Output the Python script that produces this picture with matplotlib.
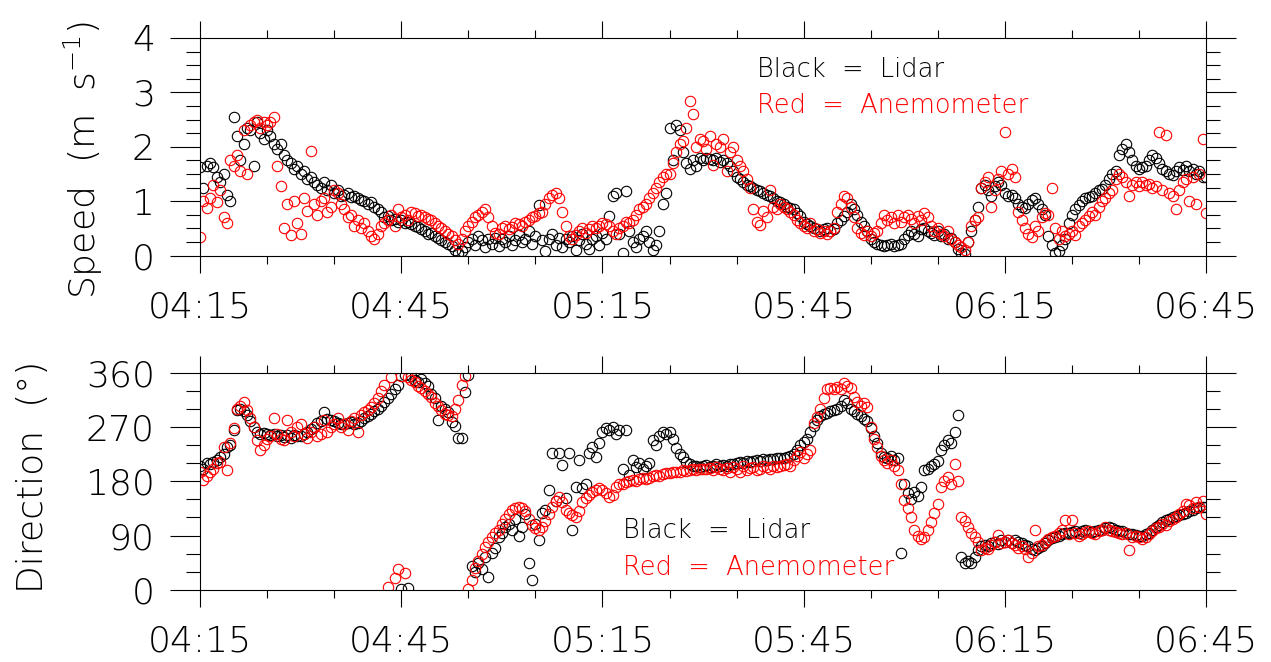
import numpy as np
import matplotlib
matplotlib.use("Agg")
import matplotlib.pyplot as plt

# sample spacing of the records (minutes after 04:15)
step = 0.5
tick_minutes = [0, 30, 60, 90, 120, 150]
tick_labels = ["04:15", "04:45", "05:15", "05:45", "06:15", "06:45"]

# wind speed (m/s), lidar = black, anemometer = red
speed_lidar = [
    1.62, 1.25, 1.65, 1.70, 1.62, 1.45, 1.35, 1.50, 1.12, 1.00,
    2.55, 2.20, 1.75, 2.05, 2.35, 2.30, 1.65, 2.45, 2.25, 2.15,
    2.30, 2.20, 2.05, 1.95, 2.05, 1.85, 1.75, 1.70, 1.60, 1.65,
    1.50, 1.55, 1.40, 1.45, 1.35, 1.30, 1.25, 1.35, 1.20, 1.30,
    1.15, 1.20, 1.10, 1.12, 1.15, 1.08, 1.10, 1.05, 1.02, 1.00,
    0.95, 0.98, 0.90, 0.85, 0.80, 0.70, 0.72, 0.65, 0.68, 0.62,
    0.65, 0.60, 0.62, 0.58, 0.55, 0.52, 0.48, 0.45, 0.40, 0.42,
    0.35, 0.32, 0.28, 0.25, 0.22, 0.18, 0.10, 0.05, 0.08, 0.15,
    0.25, 0.30, 0.20, 0.35, 0.28, 0.15, 0.30, 0.22, 0.32, 0.18,
    0.30, 0.25, 0.35, 0.20, 0.28, 0.38, 0.25, 0.30, 0.45, 0.22,
    0.35, 0.92, 0.28, 0.08, 0.30, 0.40, 0.20, 0.32, 0.15, 0.30,
    0.25, 0.35, 0.10, 0.28, 0.40, 0.22, 0.12, 0.30, 0.35, 0.20,
    0.42, 0.30, 0.72, 1.10, 1.15, 0.40, 0.05, 1.18, 0.45, 0.25,
    0.15, 0.30, 0.35, 0.45, 0.25, 0.10, 0.20, 0.45, 0.95, 1.15,
    2.35, 1.75, 2.40, 2.30, 1.90, 1.70, 1.60, 1.75, 1.65, 1.80,
    1.75, 1.80, 1.78, 1.75, 1.80, 1.72, 1.75, 1.70, 1.65, 1.55,
    1.45, 1.40, 1.35, 1.30, 1.28, 1.25, 1.20, 1.18, 1.15, 1.12,
    1.10, 1.05, 1.00, 0.98, 0.95, 0.90, 0.88, 0.85, 0.78, 0.72,
    0.62, 0.58, 0.55, 0.50, 0.48, 0.45, 0.48, 0.50, 0.45, 0.48,
    0.60, 0.65, 0.72, 0.80, 0.95, 0.85, 0.75, 0.62, 0.55, 0.45,
    0.30, 0.25, 0.22, 0.20, 0.18, 0.20, 0.22, 0.18, 0.20, 0.22,
    0.30, 0.38, 0.45, 0.40, 0.35, 0.48, 0.50, 0.45, 0.42, 0.38,
    0.45, 0.35, 0.40, 0.30, 0.32, 0.25, 0.12, 0.05, 0.03, 0.25,
    0.45, 0.65, 0.90, 1.25, 1.30, 1.20, 1.10, 1.28, 1.35, 1.30,
    1.15, 1.10, 1.12, 1.05, 0.95, 0.90, 0.88, 0.95, 1.02, 1.05,
    0.95, 0.85, 0.75, 0.35, 0.20, 0.05, 0.08, 0.20, 0.30, 0.60,
    0.75, 0.85, 0.92, 1.00, 1.05, 1.08, 1.10, 1.15, 1.20, 1.22,
    1.30, 1.40, 1.50, 1.55, 1.85, 1.95, 2.05, 1.90, 1.75, 1.65,
    1.60, 1.62, 1.65, 1.75, 1.85, 1.80, 1.70, 1.60, 1.55, 1.50,
    1.48, 1.55, 1.62, 1.58, 1.65, 1.55, 1.60, 1.50, 1.55, 1.45,
    1.45,
]
speed_anem = [
    0.34, 1.00, 0.88, 1.05, 1.30, 0.98, 1.20, 0.70, 0.60, 1.75,
    1.65, 1.85, 1.55, 2.30, 1.50, 2.40, 2.45, 2.50, 2.35, 2.45,
    2.40, 2.45, 2.55, 1.65, 1.28, 0.50, 0.95, 0.37, 1.00, 0.60,
    0.40, 1.05, 0.82, 1.92, 0.95, 0.75, 1.00, 1.05, 0.80, 0.90,
    1.20, 1.15, 0.95, 0.85, 0.70, 0.75, 0.55, 0.65, 0.50, 0.60,
    0.45, 0.35, 0.30, 0.40, 0.55, 0.60, 0.65, 0.75, 0.55, 0.85,
    0.70, 0.75, 0.65, 0.80, 0.78, 0.72, 0.75, 0.70, 0.68, 0.65,
    0.60, 0.55, 0.50, 0.45, 0.40, 0.35, 0.28, 0.22, 0.30, 0.45,
    0.55, 0.62, 0.70, 0.75, 0.80, 0.85, 0.70, 0.55, 0.42, 0.40,
    0.50, 0.55, 0.48, 0.52, 0.60, 0.58, 0.55, 0.62, 0.65, 0.70,
    0.72, 0.78, 0.80, 0.95, 1.05, 1.12, 1.15, 1.05, 0.80, 0.55,
    0.35, 0.30, 0.38, 0.45, 0.50, 0.42, 0.48, 0.55, 0.50, 0.55,
    0.60, 0.58, 0.55, 0.45, 0.40, 0.50, 0.55, 0.62, 0.60, 0.65,
    0.75, 0.85, 0.90, 0.95, 1.05, 1.15, 1.25, 1.35, 1.45, 1.50,
    1.50, 1.70, 1.90, 2.05, 2.10, 2.35, 2.85, 2.60, 2.00, 2.15,
    2.10, 1.95, 2.20, 1.66, 2.05, 2.00, 2.15, 1.55, 1.90, 2.00,
    1.75, 1.65, 1.55, 1.40, 1.25, 0.85, 0.62, 0.56, 0.81, 0.70,
    1.20, 0.90, 0.85, 0.95, 0.90, 0.85, 0.80, 0.75, 0.65, 0.60,
    0.55, 0.50, 0.60, 0.45, 0.48, 0.42, 0.45, 0.40, 0.45, 0.50,
    0.80, 0.95, 1.10, 1.05, 0.90, 0.70, 0.50, 0.42, 0.38, 0.45,
    0.35, 0.42, 0.45, 0.60, 0.75, 0.65, 0.70, 0.60, 0.75, 0.62,
    0.70, 0.75, 0.68, 0.60, 0.72, 0.65, 0.78, 0.70, 0.55, 0.45,
    0.50, 0.40, 0.35, 0.45, 0.30, 0.25, 0.20, 0.15, 0.10, 0.25,
    0.55, 0.65, 0.70, 1.25, 1.35, 1.45, 0.90, 1.20, 1.40, 1.55,
    2.28, 1.50, 1.60, 1.45, 0.80, 0.65, 0.50, 0.40, 0.34, 0.55,
    0.45, 0.70, 0.78, 0.75, 1.25, 0.50, 0.30, 0.45, 0.35, 0.40,
    0.45, 0.38, 0.55, 0.60, 0.65, 0.72, 0.80, 0.75, 0.90, 1.00,
    1.05, 1.15, 1.20, 1.40, 1.50, 1.45, 1.35, 1.10, 1.30, 1.35,
    1.28, 1.35, 1.30, 1.32, 1.25, 1.28, 2.28, 1.20, 2.22, 1.15,
    1.10, 0.85, 1.20, 1.35, 1.40, 1.00, 1.45, 0.95, 1.50, 2.15,
    0.78,
]

# wind direction (degrees)
dir_lidar = [
    205, 200, 210, 208, 212, 215, 220, 225, 237, 240,
    265, 298, 300, 296, 290, 280, 270, 262, 258, 260,
    258, 256, 258, 255, 257, 254, 256, 252, 256, 255,
    255, 258, 262, 266, 270, 276, 280, 295, 283, 282,
    280, 277, 275, 274, 276, 278, 275, 276, 280, 285,
    288, 292, 296, 300, 305, 312, 318, 325, 332, 340,
    2, 356, 4, 355, 348, 345, 350, 342, 338, 325,
    318, 282, 305, 300, 295, 278, 272, 252, 251, 328,
    356, 40, 30, 44, 35, 55, 22, 62, 70, 88,
    95, 105, 110, 100, 118, 90, 105, 125, 44, 16,
    110, 83, 128, 132, 165, 226, 148, 226, 207, 152,
    226, 99, 170, 215, 168, 176, 226, 237, 220, 243,
    262, 268, 265, 270, 258, 265, 200, 265, 190, 215,
    204, 210, 200, 206, 210, 248, 240, 255, 262, 258,
    262, 250, 235, 225, 220, 212, 208, 205, 206, 204,
    205, 207, 204, 206, 208, 205, 207, 206, 208, 209,
    210, 212, 211, 213, 212, 214, 215, 213, 216, 215,
    217, 216, 218, 219, 218, 220, 221, 225, 232, 240,
    245, 250, 262, 272, 282, 288, 292, 293, 296, 298,
    300, 305, 314, 310, 300, 296, 292, 288, 283, 280,
    268, 255, 243, 226, 220, 218, 222, 215, 218, 61,
    175, 160, 150, 162, 155, 170, 198, 200, 205, 208,
    213, 232, 240, 248, 244, 262, 290, 55, 44, 48,
    44, 55, 66, 72, 75, 72, 78, 80, 76, 82,
    80, 83, 78, 82, 80, 78, 75, 72, 68, 66,
    70, 72, 78, 83, 86, 88, 90, 92, 94, 95,
    96, 97, 95, 98, 99, 97, 96, 98, 100, 99,
    102, 104, 103, 100, 98, 97, 95, 93, 92, 91,
    90, 90, 92, 95, 100, 105, 108, 112, 116, 118,
    120, 122, 124, 126, 128, 130, 132, 135, 138, 138,
    138,
]
dir_anem = [
    195, 182, 188, 195, 200, 210, 212, 237, 199, 243,
    268, 300, 305, 311, 298, 285, 270, 248, 232, 240,
    250, 255, 284, 258, 250, 248, 282, 262, 255, 270,
    275, 258, 252, 262, 270, 255, 258, 281, 262, 270,
    275, 285, 270, 275, 265, 280, 285, 262, 290, 295,
    298, 303, 310, 318, 330, 340, 5, 352, 20, 35,
    355, 28, 352, 348, 345, 338, 335, 330, 325, 320,
    310, 305, 298, 292, 290, 288, 300, 315, 340, 355,
    2, 16, 37, 48, 60, 71, 80, 88, 95, 99,
    110, 118, 125, 132, 136, 138, 136, 130, 118, 108,
    102, 99, 105, 115, 125, 138, 148, 154, 145, 132,
    128, 124, 121, 130, 145, 152, 158, 162, 165, 168,
    166, 160, 154, 158, 170, 175, 176, 178, 180, 182,
    180, 183, 185, 184, 186, 188, 190, 189, 192, 193,
    194, 195, 196, 195, 198, 197, 198, 200, 199, 200,
    201, 200, 202, 199, 203, 200, 198, 202, 196, 203,
    200, 195, 205, 199, 202, 204, 198, 200, 206, 203,
    200, 205, 203, 206, 207, 208, 205, 215, 222, 228,
    218, 225, 232, 276, 287, 300, 318, 332, 335, 333,
    336, 332, 342, 337, 335, 320, 312, 305, 310, 303,
    270, 250, 237, 221, 215, 210, 215, 205, 198, 175,
    149, 135, 121, 99, 90, 84, 88, 99, 112, 128,
    143, 171, 180, 187, 176, 209, 180, 121, 115, 105,
    95, 88, 80, 66, 70, 68, 75, 80, 91, 78,
    80, 82, 78, 75, 70, 72, 68, 55, 62, 99,
    72, 75, 80, 85, 88, 90, 95, 100, 116, 92,
    116, 95, 90, 93, 96, 98, 95, 92, 98, 100,
    104, 100, 98, 96, 94, 92, 95, 66, 88, 90,
    88, 85, 88, 92, 98, 102, 105, 110, 108, 115,
    118, 120, 125, 130, 143, 140, 135, 145, 138, 148,
    125,
]

minutes = np.arange(len(speed_lidar)) * step

plt.rcParams['font.family'] = ['DejaVu Sans']
plt.rcParams['font.weight'] = 'light'
plt.rcParams['mathtext.fontset'] = 'dejavusans'

fig = plt.figure(figsize=(12.71, 6.62), dpi=100)
ax1 = fig.add_axes([0.1574, 0.614, 0.7915, 0.3286])
ax2 = fig.add_axes([0.1574, 0.1088, 0.7915, 0.3285])

mk = dict(marker='o', linestyle='none', markerfacecolor='none',
          markersize=7.5, markeredgewidth=0.8)

ax1.plot(minutes, speed_lidar, markeredgecolor='black', **mk)
ax1.plot(minutes, speed_anem, markeredgecolor='red', **mk)
ax2.plot(minutes, dir_lidar, markeredgecolor='black', **mk)
ax2.plot(minutes, dir_anem, markeredgecolor='red', **mk)

ax1.set_ylim(0, 4)
ax1.set_yticks([0, 1, 2, 3, 4])
ax1.set_yticks(np.arange(0, 4.01, 0.25), minor=True)
ax2.set_ylim(0, 360)
ax2.set_yticks([0, 90, 180, 270, 360])
ax2.set_yticks(np.arange(0, 361, 30), minor=True)

for ax in (ax1, ax2):
    ax.set_xlim(0, 150)
    ax.set_xticks(tick_minutes)
    ax.set_xticklabels(tick_labels)
    ax.set_xticks(np.arange(0, 151, 10), minor=True)
    for s in ax.spines.values():
        s.set_linewidth(0.8)
    ax.tick_params(axis='x', which='major', direction='out', length=12.2,
                   width=0.8, top=True, bottom=True, labelsize=26, pad=13)
    ax.tick_params(axis='x', which='minor', direction='out', length=5.8,
                   width=0.8, top=True, bottom=True)
    ax.tick_params(axis='y', which='major', direction='out', length=21.6,
                   width=0.8, left=True, right=True, labelsize=26, pad=11)
    ax.tick_params(axis='y', which='minor', direction='out', length=10,
                   width=0.8, left=True, right=True)

fig.text(83 / 1271, 1 - 160 / 662, 'Speed  (m  s$^{-1}$)', rotation=90,
         ha='center', va='center', fontsize=26)
fig.text(33 / 1271, 1 - 477 / 662, 'Direction  (°)', rotation=90,
         ha='center', va='center', fontsize=26)

ax1.text(0.554, 0.821, 'Black  =  Lidar', color='black', fontsize=18.5,
         transform=ax1.transAxes, va='baseline')
ax1.text(0.554, 0.655, 'Red  =  Anemometer', color='red', fontsize=18.5,
         transform=ax1.transAxes, va='baseline')
ax2.text(0.4205, 0.239, 'Black  =  Lidar', color='black', fontsize=18.5,
         transform=ax2.transAxes, va='baseline')
ax2.text(0.4205, 0.069, 'Red  =  Anemometer', color='red', fontsize=18.5,
         transform=ax2.transAxes, va='baseline')

fig.savefig('out.png', dpi=100)
